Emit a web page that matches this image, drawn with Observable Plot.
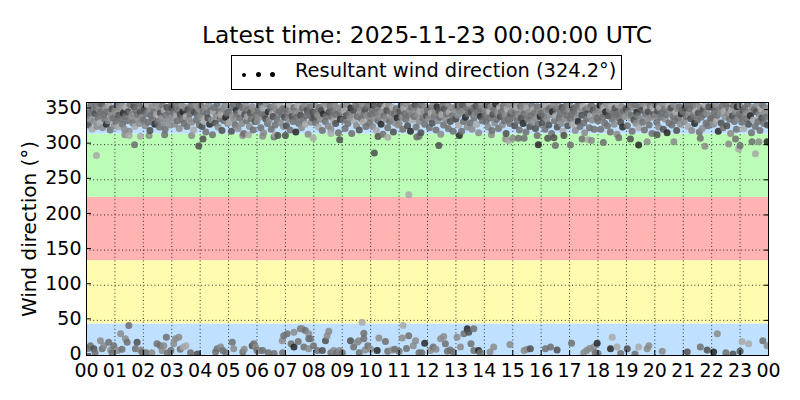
<!DOCTYPE html>
<html><head><meta charset="utf-8">
<script src="https://cdn.jsdelivr.net/npm/d3@7"></script>
<script src="https://cdn.jsdelivr.net/npm/@observablehq/plot@0.6"></script>
<style>
body{margin:0;background:#fff;font-family:"DejaVu Sans",sans-serif;color:#000;}
#head{position:relative;width:800px;height:96px;}
#title{position:absolute;left:0;width:854px;top:23.5px;text-align:center;font-size:23.4px;line-height:23.4px;white-space:nowrap;}
#legend{position:absolute;left:231px;top:55px;width:389px;height:33px;border:1px solid #000;}
#legend .lab{position:absolute;left:63px;top:4.8px;font-size:19.4px;line-height:19.4px;white-space:nowrap;}
#legend .dot{position:absolute;background:#000;border-radius:50%;}
#chart svg{display:block;}
</style></head>
<body>
<div id="head">
  <div id="title"></div>
  <div id="legend"><span class="dot" style="left:10px;top:16.5px;width:4.2px;height:4.2px"></span><span class="dot" style="left:23.5px;top:15.6px;width:5.6px;height:5.6px"></span><span class="dot" style="left:37.5px;top:16px;width:5px;height:5px"></span><span class="lab"></span></div>
</div>
<div id="chart"></div>
<script>
const titleText = "Latest time: 2025-11-23 00:00:00 UTC";
const legendText = "Resultant wind direction (324.2°)";
const yLabel = "Wind direction (°)";

const hourTicks = [0,1,2,3,4,5,6,7,8,9,10,11,12,13,14,15,16,17,18,19,20,21,22,23,24];
const hourLabels = ["00","01","02","03","04","05","06","07","08","09","10","11","12","13","14","15","16","17","18","19","20","21","22","23","00"];
const dirTicks = [0,50,100,150,200,250,300,350];

const bandLow = [0,45,135,225,315];
const bandHigh = [45,135,225,315,360];
const bandColor = ["#bfe0ff","#fffbaf","#ffb3b3","#bbfdb6","#bfe0ff"];

const greyLevels = ["#a8a8a8","#8a8a8a","#6e6e6e","#4e4e4e","#262626"];

// dense cluster, one reading every 2 minutes (30 per hour)
const topDir = [
341,352,328,345,336,357,322,349,333,344,355,326,339,350,331,347,358,324,343,337,353,329,346,334,356,321,342,351,338,327,
348,333,356,325,342,351,337,359,329,345,322,340,353,334,347,319,357,338,344,331,354,326,349,336,343,358,330,346,339,352,
335,350,327,344,357,332,348,320,341,354,337,346,329,359,343,333,351,325,345,338,356,331,349,322,342,353,336,347,328,355,
352,338,345,329,356,341,334,349,323,343,358,336,347,330,353,340,326,350,337,344,355,332,348,321,346,357,335,342,351,328,
340,355,326,347,333,352,318,344,338,357,329,349,335,314,346,353,331,341,358,325,348,337,343,320,351,334,356,339,345,330,
346,332,353,319,341,358,336,328,349,344,323,355,338,347,330,352,316,343,357,334,340,350,326,345,337,354,321,348,333,342,
333,349,339,356,324,345,352,317,342,337,358,330,347,335,353,322,344,340,355,328,350,336,313,346,357,331,343,351,326,339,
351,327,344,336,357,321,348,340,333,353,345,318,339,356,330,347,342,324,352,335,358,329,341,349,315,344,354,332,338,346,
338,356,331,347,342,325,353,336,349,320,344,358,333,340,351,327,346,355,322,339,348,334,357,330,343,352,317,345,336,350,
354,335,348,323,341,357,330,345,338,352,316,343,349,334,356,327,340,353,321,347,337,359,332,344,350,326,342,355,339,331,
343,350,326,356,337,345,320,352,334,340,358,329,347,315,341,354,336,349,324,357,333,346,339,353,318,344,331,351,338,328,
330,347,355,339,322,351,344,336,358,327,342,349,319,353,335,346,340,357,325,343,352,333,348,317,356,338,345,329,354,341,
349,337,324,352,345,331,357,340,346,321,354,334,348,339,315,343,356,328,351,336,344,358,323,347,333,353,341,319,350,337,
336,355,342,328,350,345,319,357,333,348,339,353,325,344,359,331,347,322,352,338,343,355,329,346,317,351,340,357,334,349,
352,341,333,356,325,347,338,354,320,343,350,331,358,336,345,323,353,340,347,328,355,334,342,316,351,337,357,330,344,348,
339,358,327,346,353,334,342,321,355,338,349,330,344,357,318,352,336,347,326,341,356,332,350,345,323,338,354,329,346,340,
345,331,354,340,322,357,336,349,328,352,343,316,347,358,334,341,351,325,356,338,344,330,353,319,348,337,355,342,327,350,
357,336,343,329,351,346,320,354,339,333,358,326,348,342,355,331,317,350,337,345,353,324,341,356,335,349,322,344,352,338,
334,349,356,322,344,339,353,331,347,358,327,341,350,318,355,336,345,329,352,343,315,357,338,346,332,354,325,348,340,351,
350,327,345,355,338,342,319,352,335,357,330,346,341,324,354,337,349,332,358,321,344,351,336,347,328,356,339,316,353,343,
341,356,332,348,325,353,339,345,358,322,350,336,343,317,355,331,347,352,328,340,357,334,346,320,351,338,354,329,344,349,
347,333,352,340,357,326,344,351,337,320,355,342,330,348,358,335,345,318,353,339,323,350,343,356,331,346,327,354,341,336,
338,353,329,346,357,334,342,319,350,345,331,355,324,348,339,358,327,344,352,336,316,349,341,356,333,347,322,354,337,343,
355,340,332,349,323,352,344,337,358,329,346,341,317,353,335,350,326,347,357,333,343,320,351,338,356,330,345,339,352,328
];
const topShade = [
3,2,4,3,2,3,1,3,2,4,3,2,3,2,1,3,4,2,3,3,2,5,3,2,1,3,2,4,3,2,
2,3,3,1,4,2,3,2,3,5,2,3,1,3,4,2,3,2,2,3,4,1,3,2,3,3,2,4,2,3,
3,4,2,3,1,3,2,4,3,2,3,3,5,2,1,3,2,3,4,2,3,2,1,3,3,4,2,3,2,3,
4,2,3,2,3,1,3,3,2,4,2,3,5,3,2,1,3,4,2,3,3,2,3,1,4,2,3,3,2,3,
2,3,4,3,1,2,3,3,4,2,5,3,2,3,1,3,4,2,3,2,3,3,1,4,2,3,2,5,3,2,
3,1,3,4,2,3,2,3,5,3,2,4,3,1,2,3,3,4,2,3,1,3,2,4,3,2,3,2,4,3,
2,3,2,4,3,3,1,2,3,4,2,3,5,2,3,3,1,4,2,3,2,3,4,3,1,2,3,3,2,4,
3,4,3,2,1,3,2,4,3,3,2,5,3,1,3,2,4,2,3,3,2,1,3,4,2,3,3,2,3,4,
4,2,3,3,2,1,3,2,4,3,5,2,3,3,1,2,4,3,2,3,3,1,2,4,3,2,3,3,5,2,
2,3,1,3,4,2,3,3,2,5,3,2,4,1,3,2,3,3,4,2,3,2,1,3,4,3,2,3,2,3,
3,3,2,4,2,3,1,3,3,2,4,5,2,3,3,1,2,4,3,2,3,3,2,1,4,3,2,3,5,2,
2,4,3,2,3,1,3,3,2,4,3,2,5,3,1,2,3,4,3,2,3,2,1,4,3,3,2,3,2,4,
3,2,3,3,1,4,2,3,2,3,5,2,4,3,2,1,3,3,4,2,3,2,3,1,4,2,3,3,2,3,
4,3,2,1,3,2,3,4,3,2,5,3,2,3,1,3,4,2,3,3,2,4,1,3,2,3,5,2,3,3,
2,3,3,4,2,1,3,2,3,4,3,2,5,3,2,3,1,4,3,2,3,3,2,4,1,3,2,3,4,2,
3,2,4,3,1,3,2,3,3,4,2,5,3,2,3,1,3,2,4,3,3,2,1,3,4,2,3,3,2,5,
3,4,2,3,3,1,2,3,4,3,2,3,5,2,3,1,3,4,2,3,3,2,4,1,3,2,3,3,4,2,
2,3,3,1,4,3,2,3,2,5,3,3,2,4,1,3,2,3,3,4,2,3,1,3,2,4,3,2,3,3,
3,2,4,3,2,3,1,3,5,2,3,4,2,3,1,3,3,2,4,3,2,1,3,3,4,2,5,3,2,3,
4,3,2,3,1,3,3,2,4,3,2,5,3,1,3,2,4,3,2,3,3,1,2,4,3,3,2,3,1,4,
2,3,3,4,2,1,3,3,2,4,3,2,3,5,1,3,2,4,3,3,2,3,1,4,2,3,3,2,5,3,
3,2,4,3,3,1,2,3,4,2,3,3,5,1,2,3,4,3,2,3,2,4,3,1,3,2,3,4,2,3,
3,4,2,3,2,1,3,5,3,2,4,3,3,1,2,3,4,2,3,3,2,1,4,3,3,2,3,5,2,3,
2,3,3,4,1,3,2,3,3,4,2,5,3,2,1,3,3,4,2,3,2,3,1,4,3,3,2,3,2,4
];

// scattered readings: low sector (0-50°) and outliers below the main cluster
const sparseHour = [
0.35,1.69,1.35,1.5,1.9,2.2,2.75,3.7,3.95,4.1,5.5,5.7,6.2,6.6,6.65,7.0,7.98,8.6,8.91,10.13,10.26,10.6,11.34,11.62,11.7,12.4,13.12,14.25,14.75,14.85,15.0,15.2,15.4,15.86,15.9,16.23,16.45,16.5,16.8,17.03,17.44,17.77,17.65,18.19,18.73,19.14,19.43,19.73,20.08,20.67,21.6,21.76,22.6,22.84,23.0,22.95,23.54,23.42,23.66,23.95,
0.05,0.14,0.26,0.3,0.49,0.55,0.61,0.78,0.85,0.9,0.96,1.1,1.2,1.25,1.37,1.43,1.49,1.72,1.78,1.9,1.95,2.1,2.3,2.48,2.6,2.66,2.72,2.81,2.85,2.97,
3.07,3.13,3.25,3.3,3.4,3.5,3.66,3.9,4.54,4.6,4.72,4.8,4.9,5.13,5.18,5.5,5.55,5.83,5.89,5.95,6.0,6.1,6.2,6.4,6.6,6.9,6.89,6.94,7.06,7.3,
7.3,7.2,7.45,7.53,7.59,7.65,7.7,7.82,7.82,7.82,7.88,7.99,8.12,8.3,8.41,8.47,8.53,8.6,8.7,8.8,8.9,9.0,9.29,9.4,9.53,9.58,9.7,9.76,9.76,9.6,
9.8,9.9,10.0,10.23,10.29,10.52,10.6,10.75,10.85,11.0,11.11,11.14,11.34,11.26,11.5,11.58,11.7,11.8,11.9,12.1,12.2,12.3,12.46,12.57,12.63,12.7,12.8,12.9,13.04,13.16,
13.28,13.4,13.45,13.63,13.53,13.63,13.8,13.85,14.2,14.33,14.9,15.4,15.5,15.62,16.15,16.33,16.56,17.07,17.5,17.6,17.7,17.85,17.9,17.97,18.0,18.44,18.5,18.67,18.8,19.03,
19.3,19.43,19.73,19.79,20.26,21.14,21.6,21.84,22.07,22.2,22.5,22.75,23.0,23.07,23.3,23.8,23.95
];
const sparseDir = [
284.5,300,314,313,312,313,314,313,298,308,313,314,312,311,314,313,309,316,307,288,311.5,310.5,228.6,311,312,298.7,313,314,308,306,309,309,309,313,300,309,310,298.7,313,299.7,308,306,307,303,310,308,299.7,304,314,304,309,297.7,301,308,298.7,294,287,304,304,304,
10,14,9.5,4,21,9.5,14,19,8,4,14,7,31,9,24,19,42.7,9.5,19,8,5,4,4,16.6,14,7,14,26,3.5,7,
16.6,23.7,26,9,12,14,4,2,5,9.5,12,7,4,19,9.5,5,9,14,16.6,12,7,7,7,4,3,4,21,28,31,33,
12,16.6,20,38,38,12,35.6,31,23.7,9.5,23.7,14,7,7,21,28,34.6,4,7,4,7,4,21,12,19,21,47.4,31.8,23.7,4,
8,14,9,7,25,20,6,8,9,6,25,42.7,28,10,14,21,4,4,17.5,7,12,9,23.7,27,16.6,6,8,5,26,12,
31,38,33,38,16.6,7,7,4,5,12,15.6,7,9,9.5,9.5,12,8,17.5,4,7,10,12,4,17.5,3,9.5,26,12,3,9.5,
2,12,9.5,14,6,5,12,8,5,31,4,2,6,20,16.6,21,14
];
const sparseShade = [
1,3,2,1,1,2,3,2,4,4,2,1,2,3,1,4,1,1,4,4,4,1,1,3,3,4,5,2,2,1,2,3,3,3,5,4,4,3,4,3,3,2,1,3,3,4,5,2,4,2,3,2,2,3,3,1,1,3,2,5,
3,3,4,3,2,3,2,3,2,3,3,2,2,3,2,3,3,3,4,2,3,3,2,3,3,2,2,3,3,3,
2,2,2,3,1,1,3,4,3,3,2,3,3,3,2,3,2,4,3,2,3,2,3,3,3,3,2,3,3,2,
5,3,3,3,2,3,3,2,3,2,3,3,3,4,4,2,2,3,2,3,2,3,4,3,2,2,1,3,3,3,
2,3,2,5,2,3,3,2,3,3,2,1,3,3,2,2,3,3,5,2,3,2,2,2,3,3,3,3,2,2,
3,5,4,3,3,3,5,3,2,2,2,2,2,4,3,3,4,3,2,2,2,2,3,5,3,5,1,1,3,4,
3,1,2,2,2,4,3,4,5,2,3,4,4,1,1,3,2
];

const bands = bandLow.map((lo, i) => ({lo, hi: bandHigh[i], color: bandColor[i]}));
const pts = [];
topDir.forEach((d, i) => pts.push({t: i * 2 / 60, dir: d, c: greyLevels[topShade[i] - 1]}));
sparseHour.forEach((t, i) => pts.push({t, dir: sparseDir[i], c: greyLevels[sparseShade[i] - 1]}));
pts.sort((a, b) => a.t - b.t);

document.getElementById("title").textContent = titleText;
document.querySelector("#legend .lab").textContent = legendText;

const fmtHour = d => hourLabels[hourTicks.indexOf(d)];
const gridStyle = {stroke: "#000", strokeOpacity: 1, strokeWidth: 0.8, strokeDasharray: "1,2.6"};

const chart = Plot.plot({
  width: 800, height: 304,
  marginLeft: 86, marginRight: 32, marginTop: 6, marginBottom: 45,
  style: {fontFamily: "DejaVu Sans", fontSize: "19px", color: "#000", background: "#fff"},
  x: {domain: [0, 24]},
  y: {domain: [0, 360]},
  color: {type: "identity"},
  marks: [
    Plot.rect(bands, {y1: "lo", y2: "hi", fill: "color"}),
    Plot.gridX(hourTicks, gridStyle),
    Plot.gridY(dirTicks, gridStyle),
    Plot.dot(pts, {x: "t", y: "dir", r: 3.5, fill: "c", fillOpacity: 0.85, clip: true}),
    Plot.frame({stroke: "#000", strokeWidth: 1}),
    Plot.axisX(hourTicks, {anchor: "bottom", tickSize: -5, tickPadding: 13, tickFormat: fmtHour, label: null}),
    Plot.axisX(hourTicks, {anchor: "top", tickSize: -5, tickFormat: () => "", label: null}),
    Plot.axisY(dirTicks, {anchor: "left", tickSize: -5, tickPadding: 10, dy: -1.5, label: null}),
    Plot.axisY(dirTicks, {anchor: "right", tickSize: -5, tickFormat: () => "", label: null}),
    Plot.axisY(dirTicks, {anchor: "left", tickSize: 0, tickFormat: () => "", label: yLabel, labelAnchor: "center", labelArrow: "none", labelOffset: 65, fontSize: 20})
  ]
});
document.getElementById("chart").appendChild(chart);
</script>
</body></html>
